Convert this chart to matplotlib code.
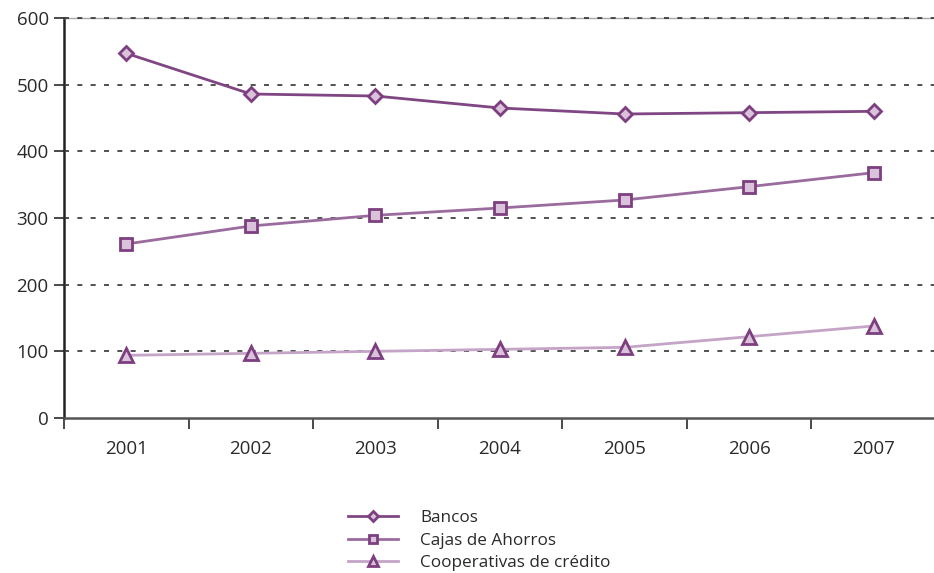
import matplotlib.pyplot as plt

plt.rcParams['font.family'] = ['Open Sans', 'DejaVu Sans']

years = ['2001', '2002', '2003', '2004', '2005', '2006', '2007']
bancos = [547, 486, 483, 465, 456, 458, 460]
cajas = [261, 288, 304, 315, 327, 347, 368]
cooperativas = [94, 97, 100, 103, 106, 122, 138]

dark = '#7d3f80'
fill = '#d9c2da'
txt = '#2a2a2a'

fig = plt.figure(figsize=(9.34, 5.73), dpi=100)
ax = fig.add_axes([64 / 934, 1 - 418 / 573, 872 / 934, 400 / 573])

x = range(len(years))
ax.plot(x, bancos, color='#804684', lw=2, marker='D', ms=7,
        mfc=fill, mec=dark, mew=2, label='Bancos', zorder=4)
ax.plot(x, cajas, color='#9a6b9d', lw=2, marker='s', ms=8,
        mfc=fill, mec=dark, mew=2, label='Cajas de Ahorros', zorder=4)
ax.plot(x, cooperativas, color='#c5a5c7', lw=2, marker='^', ms=10,
        mfc=fill, mec=dark, mew=2, label='Cooperativas de crédito', zorder=4)

ax.set_xlim(-0.5, 6.5)
ax.set_ylim(0, 600)
ax.set_yticks(range(0, 601, 100))
ax.set_xticks([i - 0.5 for i in range(7)])
ax.set_xticklabels([])
ax.set_xticks(list(x), minor=True)
ax.set_xticklabels(years, minor=True)
ax.tick_params(axis='x', which='major', length=8, width=1.2, direction='out', color=txt)
ax.tick_params(axis='x', which='minor', length=0, pad=16, labelsize=13.5, labelcolor=txt)
ax.tick_params(axis='y', length=7, width=1.2, labelsize=13.5, labelcolor=txt, pad=4, color=txt)

for v in range(100, 601, 100):
    ax.axhline(v, color='#333333', lw=1.2, ls=(0, (3, 5)), zorder=3, clip_on=False)

ax.spines['right'].set_visible(False)
ax.spines['top'].set_color('#aaaaaa')
ax.spines['top'].set_linewidth(1)
ax.spines['left'].set_color('#222222')
ax.spines['left'].set_linewidth(1.8)
ax.spines['bottom'].set_color('#555555')
ax.spines['bottom'].set_linewidth(1.8)

handles, labels = ax.get_legend_handles_labels()
fig.legend(handles, labels, loc='upper left', bbox_to_anchor=(333 / 934, 1 - 495 / 573),
           frameon=False, fontsize=12.3, handlelength=2.9, handletextpad=1.3,
           labelspacing=0.36, markerscale=0.7, labelcolor=txt)

fig.savefig('out.png', dpi=100)
